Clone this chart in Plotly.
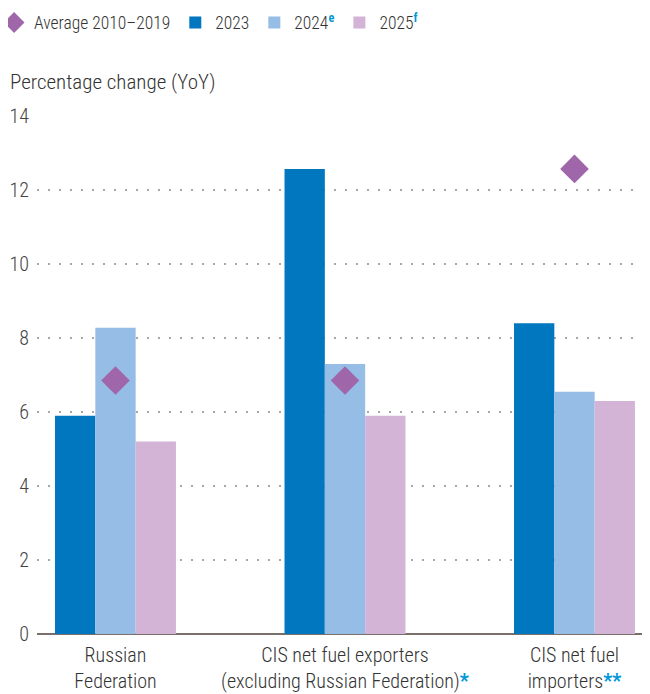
import plotly.graph_objects as go

categories = ["Russian<br>Federation",
              "CIS net fuel exporters<br>(excluding Russian Federation)<span style='color:#0098D8'><b>*</b></span>",
              "CIS net fuel<br>importers<span style='color:#0098D8'><b>**</b></span>"]
avg_2010_2019 = [6.85, 6.85, 12.57]
v2023 = [5.9, 12.57, 8.4]
v2024 = [8.28, 7.3, 6.55]
v2025 = [5.2, 5.9, 6.3]
yticks = [0, 2, 4, 6, 8, 10, 12, 14]

xpos = list(range(len(categories)))
FONT = "Roboto Condensed, Liberation Sans Narrow, Roboto, sans-serif"
sup = lambda s: f"<sup><span style='color:#0098D8'><b>{s}</b></span></sup>"

fig = go.Figure()
# scatter layer is always drawn above bars in Plotly, so it can come first for the legend
fig.add_scatter(x=xpos, y=avg_2010_2019, mode="markers", name="Average 2010\u20132019",
                marker=dict(symbol="diamond", size=22, color="#A066AA", line_width=0))
fig.add_bar(x=xpos, y=v2023, name="2023", marker_color="#0077BE", marker_line_width=0)
fig.add_bar(x=xpos, y=v2024, name="2024" + sup("e"), marker_color="#95BDE5", marker_line_width=0)
fig.add_bar(x=xpos, y=v2025, name="2025" + sup("f"), marker_color="#D3B4D6", marker_line_width=0)

fig.update_layout(
    width=642, height=686,
    margin=dict(l=29, r=0, t=108, b=60, autoexpand=False),
    plot_bgcolor="white", paper_bgcolor="white",
    barmode="group", bargap=0.473, bargroupgap=0,
    font=dict(family=FONT, size=18, color="#333333", weight=300),
    legend=dict(orientation="h", x=-0.07, y=1.215, yanchor="top", xanchor="left",
                traceorder="normal", font=dict(size=17.5, color="#333333", weight=300)),
    xaxis=dict(tickmode="array", tickvals=xpos, ticktext=categories, automargin=False,
               range=[-0.342, 2.329], showgrid=False, showline=False, zeroline=False,
               tickfont=dict(size=20, color="#333333", weight=300), ticks="",
               ticklabelstandoff=7),
    yaxis=dict(range=[0, 14], tickvals=yticks, showgrid=True, gridcolor="#A8A8A8",
               griddash="1.5px,9.5px", gridwidth=1.5, zeroline=True, zerolinecolor="#7A6F6A",
               zerolinewidth=2, tickfont=dict(size=20, color="#444444", weight=300), ticks="",
               ticklabelstandoff=7, automargin=False),
    annotations=[dict(text="Percentage change (YoY)", xref="paper", yref="paper",
                      x=-0.047, y=1.0, xanchor="left", yanchor="bottom", yshift=20,
                      showarrow=False, font=dict(size=21, color="#333333", weight=300), align="left")],
)
fig.write_html("out.html")
